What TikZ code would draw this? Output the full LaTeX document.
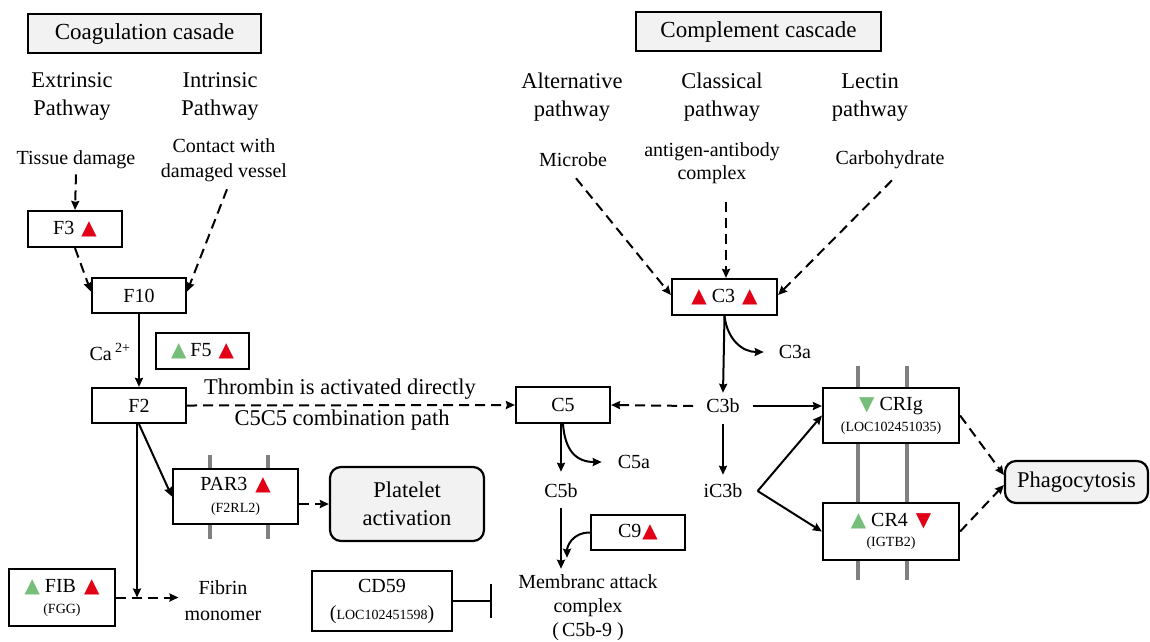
\documentclass[tikz,border=0pt]{standalone}
\usepackage{fontspec}
\setmainfont{Liberation Serif}
\newfontfamily\symfont{DejaVu Sans}
\usetikzlibrary{arrows.meta,calc}
\definecolor{tred}{RGB}{226,0,22}
\definecolor{tgreen}{RGB}{118,190,122}
\definecolor{boxgray}{RGB}{242,242,242}
\definecolor{membgray}{RGB}{128,128,128}
\newcommand\rup{{\symfont\color{tred}▲}}
\newcommand\gup{{\symfont\color{tgreen}▲}}
\newcommand\rdn{{\symfont\color{tred}▼}}
\newcommand\gdn{{\symfont\color{tgreen}▼}}
\newcommand\gsmall[1]{{\fontsize{14}{16}\selectfont #1}}
\begin{document}
\begin{tikzpicture}[x=1pt,y=-1pt,
  genebox/.style={draw, line width=2.2pt, fill=white, inner sep=0pt, align=center, font=\fontsize{20}{22}\selectfont},
  titlebox/.style={draw, line width=2.2pt, fill=boxgray, inner sep=0pt, font=\fontsize{23}{27}\selectfont},
  roundbox/.style={draw, line width=2.2pt, fill=boxgray, rounded corners=11pt, inner sep=0pt, align=center, font=\fontsize{22.5}{28}\selectfont},
  txt/.style={inner sep=0pt, align=center, font=\fontsize{20}{25}\selectfont},
  bigtxt/.style={inner sep=0pt, align=center, font=\fontsize{22.5}{28}\selectfont},
  arr/.style={line width=2pt, -{Stealth[length=9pt,width=8pt,inset=1pt]}},
  darr/.style={arr, dash pattern=on 10pt off 6pt},
  memb/.style={line width=4pt, draw=membgray}]
\useasboundingbox (0,0) rectangle (1150,641);

% membranes
\draw[memb] (210,455) -- (210,539);
\draw[memb] (268,455) -- (268,539);
\draw[memb] (858,366) -- (858,580);
\draw[memb] (907,366) -- (907,580);

% titles
\node[titlebox, minimum width=233pt, minimum height=39pt] (coag) at (144.5,33.5) {Coagulation casade};
\node[titlebox, minimum width=245pt, minimum height=39pt] (comp) at (758.5,31.5) {Complement cascade};

% coagulation labels
\node[bigtxt] (ext) at (72,96) {Extrinsic\\Pathway};
\node[bigtxt] (intr) at (220,96) {Intrinsic\\Pathway};
\node[txt] (tissue) at (76,160) {Tissue damage};
\node[txt] (contact) at (224,160.5) {Contact with\\damaged vessel};

% coagulation boxes
\node[genebox, minimum width=94pt, minimum height=36pt] (f3) at (75,229) {F3\hspace{7pt}\rup};
\node[genebox, minimum width=94pt, minimum height=35pt] (f10) at (139,295.5) {F10};
\node[genebox, minimum width=94pt, minimum height=35pt] (f2) at (139,405.5) {F2};
\node[txt] (ca) at (110,352) {Ca\,\textsuperscript{2+}};
\node[genebox, minimum width=93pt, minimum height=36pt] (f5) at (202.5,351) {\gup\hspace{4pt}F5\hspace{7pt}\rup};
\node[bigtxt] (thr) at (340,389) {Thrombin is activated directly};
\node[bigtxt] (c5c5) at (342,420) {C5C5 combination path};
\node[genebox, minimum width=125pt, minimum height=55pt] (par3) at (235.5,496.5) {PAR3\hspace{8pt}\rup\\\gsmall{(F2RL2)}};
\node[roundbox, minimum width=154pt, minimum height=74pt] (plat) at (407,504) {Platelet\\activation};
\node[genebox, minimum width=106pt, minimum height=57pt] (fib) at (62,597.5) {\gup\hspace{5pt}FIB\hspace{8pt}\rup\\[-1pt]\gsmall{(FGG)}};
\node[txt, align=center, font=\fontsize{20}{26}\selectfont] (fibrin) at (223,601) {Fibrin\\monomer};
\node[genebox, minimum width=140pt, minimum height=60pt, font=\fontsize{20}{27}\selectfont] (cd59) at (382,601) {CD59\\(\gsmall{LOC102451598})};
\coordinate (inh) at (492,601);

% complement labels
\node[bigtxt] (alt) at (572,97) {Alternative\\pathway};
\node[bigtxt] (clas) at (722,97) {Classical\\pathway};
\node[bigtxt] (lect) at (870,97) {Lectin\\pathway};
\node[txt] (microbe) at (573,160) {Microbe};
\node[txt, font=\fontsize{20}{23}\selectfont] (antigen) at (712,163.5) {antigen-antibody\\complex};
\node[txt] (carbo) at (890,160) {Carbohydrate};

% complement boxes
\node[genebox, minimum width=105pt, minimum height=36pt] (c3) at (724.5,297) {\rup\hspace{5pt}C3\hspace{7pt}\rup};
\node[txt] (c3a) at (795,352) {C3a};
\node[txt] (c3b) at (723,406) {C3b};
\node[txt] (ic3b) at (723,491) {iC3b};
\node[genebox, minimum width=94pt, minimum height=36pt] (c5) at (563,405) {C5};
\node[txt] (c5a) at (634,462) {C5a};
\node[txt] (c5b) at (561,491) {C5b};
\node[genebox, minimum width=94pt, minimum height=35pt] (c9) at (638,532.5) {C9\hspace{1pt}\rup};
\node[txt, font=\fontsize{20}{24}\selectfont] (mac) at (588,608) {Membranc attack\\complex\\(\hspace{3pt}C5b-9\hspace{5pt})};
\node[genebox, minimum width=136pt, minimum height=55pt, font=\fontsize{20}{21}\selectfont] (crig) at (891,415.5) {\gdn\hspace{5pt}CRIg\\\gsmall{(LOC102451035)}};
\node[genebox, minimum width=136pt, minimum height=57pt, font=\fontsize{20}{20}\selectfont] (cr4) at (891,531.5) {\gup\hspace{5pt}CR4\hspace{8pt}\rdn\\\gsmall{(IGTB2)}};
\node[roundbox, minimum width=143pt, minimum height=42pt] (phago) at (1076.5,482) {Phagocytosis};

% coagulation connectors
\draw[darr] ($(tissue.south)+(0,5)$) -- (f3.north);
\draw[darr] (f3.south) -- ($(f10.west)+(0,-4)$);
\draw[darr] ($(contact.south)+(3,7)$) -- ($(f10.east)+(0,-4)$);
\draw[arr] (f10.south) -- (f2.north);
\draw[darr] (f2.east) -- (c5.west);
\draw[arr] (f2.south) -- (par3.west);
\draw[arr] ($(f2.south)+(-2,0)$) -- ($(f2.south |- fib.east)+(-2,0)$);
\draw[darr] (fib.east) -- ($(fibrin.west |- fib.east)+(-6,0)$);
\draw[darr] (par3.east |- plat.west) -- (plat.west);
\draw[line width=2pt, -{Bar[width=34pt]}] (cd59.east) -- (inh);

% complement connectors
\draw[darr] ($(microbe.south)+(3,11)$) -- ($(c3.west)+(0,-2)$);
\draw[darr] ($(antigen.south)+(14,18)$) -- ($(c3.north)+(1.5,0)$);
\draw[darr] ($(carbo.south)+(2,11)$) -- ($(c3.east)+(0,-2)$);
\draw[arr] (c3.south) -- ($(c3b.north)+(0,-6)$);
\draw[arr] (c3.south) .. controls ($(c3.south)+(3,24)$) and ($(c3a.west)+(-36,0)$) .. ($(c3a.west)+(-15,0)$);
\draw[darr] ($(c3b.west)+(-13,0)$) -- (c5.east);
\draw[arr] ($(c3b.east)+(13,0)$) -- (c3b.east -| crig.west);
\draw[arr] ($(c3b.south)+(0,11)$) -- ($(ic3b.north)+(0,-9)$);
\draw[arr] (c5.south) .. controls ($(c5.south)+(2,26)$) and ($(c5a.west)+(-42,0)$) .. ($(c5a.west)+(-16,0)$);
\draw[arr] ($(c5.south)+(-2,0)$) -- ($(c5b.north)+(0,-12)$);
\draw[arr] ($(c5b.south)+(0,10)$) -- ($(c5b.south |- mac.north)+(0,-6)$);
\draw[arr] (c9.west) .. controls ($(c9.west)+(-18,0)$) and ($(c5b.south |- mac.north)+(6,-28)$) .. ($(c5b.south |- mac.north)+(6,-17)$);
\coordinate (iv) at ($(ic3b.east)+(15,0)$);
\draw[arr] (iv) -- (crig.west);
\draw[arr] (iv) -- (cr4.west);
\draw[darr] (crig.east) -- ($(phago.west)+(0,-7)$);
\draw[darr] (cr4.east) -- ($(phago.west)+(0,3)$);
\end{tikzpicture}
\end{document}
